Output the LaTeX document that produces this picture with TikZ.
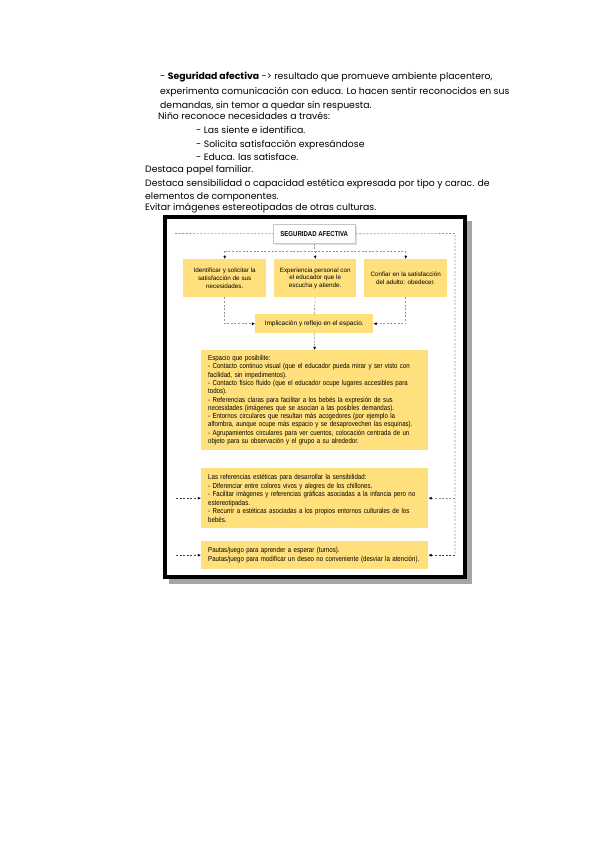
\documentclass[tikz,border=0pt]{standalone}
\usepackage{fontspec}
\setmainfont{Poppins}
\newfontfamily\narrow[FakeStretch=0.85]{Liberation Sans}
\newfontfamily\plainsans{Liberation Sans}
\usetikzlibrary{arrows.meta}
\definecolor{boxyellow}{RGB}{255,224,125}
\definecolor{dashgray}{RGB}{150,150,150}
\definecolor{shadowgray}{RGB}{165,165,165}
\tikzset{
  topline/.style={anchor=base west, inner sep=0pt, font=\fontsize{9.3}{10}\selectfont},
  ybox/.style={fill=boxyellow, draw=none, anchor=north west, inner sep=0pt, align=center, font=\plainsans\fontsize{6.3}{7.6}\selectfont},
  bigbox/.style={fill=boxyellow, draw=none, anchor=north west, inner xsep=7pt, inner ysep=0pt, align=left, font=\narrow\fontsize{7.2}{8.3}\selectfont},
  dl/.style={draw=dashgray, dash pattern=on 2pt off 1.6pt, line width=0.6pt},
  dk/.style={draw=black!75, dash pattern=on 2pt off 1.6pt, line width=0.6pt},
  arr/.style={-{Latex[length=3.2pt,width=3pt,color=black]}}
}
\begin{document}
\begin{tikzpicture}[x=1pt,y=-1pt]
\useasboundingbox[fill=white] (0,0) rectangle (599,848);
% top text
\node[topline] (t1) at (160,80) {- {\bfseries Seguridad afectiva} -> resultado que promueve ambiente placentero,};
\node[topline] (t2) at (160,95) {experimenta comunicación con educa. Lo hacen sentir reconocidos en sus};
\node[topline] (t3) at (160,109) {demandas, sin temor a quedar sin respuesta.};
\node[topline] (t4) at (158,120) {Niño reconoce necesidades a través:};
\node[topline] (t5) at (196,134) {- Las siente e identifica.};
\node[topline] (t6) at (196,147) {- Solicita satisfacción expresándose};
\node[topline] (t7) at (196,160) {- Educa. las satisface.};
\node[topline] (t8) at (145,172) {Destaca papel familiar.};
\node[topline] (t9) at (145,186) {Destaca sensibilidad o capacidad estética expresada por tipo y carac. de};
\node[topline] (t10) at (145,199) {elementos de componentes.};
\node[topline] (t11) at (145,210) {Evitar imágenes estereotipadas de otras culturas.};
% frame
\fill[shadowgray] (169,221) rectangle (472,584);
\draw[line width=4pt, fill=white] (164.5,216.5) rectangle (464.5,577);
% title
\fill[gray!25] (274.5,225.5) rectangle (356.5,244.5);
\node[fill=white, draw=gray!45, line width=0.5pt, anchor=north west, minimum width=82pt, minimum height=19pt, inner sep=0pt, font=\narrow\bfseries\fontsize{7.1}{8}\selectfont] (title) at (273,224) {SEGURIDAD AFECTIVA};
% boxes
\node[ybox, minimum width=83pt, minimum height=38pt] (b1) at (183,259) {Identificar y solicitar la\\satisfacción de sus\\necesidades.};
\node[ybox, minimum width=82pt, minimum height=38pt] (b2) at (274,259) {Experiencia personal con\\el educador que le\\escucha y atiende.};
\node[ybox, minimum width=83pt, minimum height=38pt] (b3) at (364,259) {Confiar en la satisfacción\\del adulto: obedecer.};
\node[ybox, minimum width=118pt, minimum height=19pt, font=\plainsans\fontsize{6.5}{7.6}\selectfont] (impl) at (255,314) {Implicación y reflejo en el espacio.};
\node[bigbox, text width=213pt, minimum height=100pt] (big) at (201,350) {Espacio que posibilite:\\
- Contacto continuo visual (que el educador pueda mirar y ser visto con\\
facilidad, sin impedimentos).\\
- Contacto físico fluido (que el educador ocupe lugares accesibles para\\
todos).\\
- Referencias claras para facilitar a los bebés la expresión de sus\\
necesidades (imágenes que se asocian a las posibles demandas).\\
- Entornos circulares que resultan más acogedores (por ejemplo la\\
alfombra, aunque ocupe más espacio y se desaprovechen las esquinas).\\
- Agrupamientos circulares para ver cuentos, colocación centrada de un\\
objeto para su observación y el grupo a su alrededor.};
\node[bigbox, text width=213pt, minimum height=60pt, font=\narrow\fontsize{7.2}{8.5}\selectfont] (ref) at (201,468) {Las referencias estéticas para desarrollar la sensibilidad:\\
- Diferenciar entre colores vivos y alegres de los chillones.\\
- Facilitar imágenes y referencias gráficas asociadas a la infancia pero no\\
estereotipadas.\\
- Recurrir a estéticas asociadas a los propios entornos culturales de los\\
bebés.};
\node[bigbox, text width=213pt, minimum height=28pt] (pa) at (201,541) {Pautas/juego para aprender a esperar (turnos).\\
Pautas/juego para modificar un deseo no conveniente (desviar la atención).};
% connectors
\coordinate (tl) at (175,233.5);
\coordinate (tr) at (455,233.5);
\coordinate (lx) at (176,0);
\coordinate (hy) at (0,251);
\draw[dl] (tl) -- (title.west);
\draw[dl] (title.east) -- (tr) -- (tr |- pa.east);
\draw[dl, arr] (tr |- ref.east) -- (ref.east);
\draw[dk, arr] (tr |- pa.east) -- (pa.east);
\draw[dk, arr] (lx |- ref.west) -- (ref.west);
\draw[dk, arr] (lx |- pa.west) -- (pa.west);
\draw[dl] (title.south) -- (title.south |- hy);
\draw[dl] (b1.north |- hy) -- (b3.north |- hy);
\draw[dl, arr] (b1.north |- hy) -- (b1.north);
\draw[dl, arr] (b2.north |- hy) -- (b2.north);
\draw[dl, arr] (b3.north |- hy) -- (b3.north);
\draw[dl, arr] (b1.south) |- (impl.west);
\draw[dl, arr] (b3.south) |- (impl.east);
\draw[dl] (b2.south) -- (impl.north);
\draw[dl, arr] (impl.south) -- (big.north);
\end{tikzpicture}
\end{document}
